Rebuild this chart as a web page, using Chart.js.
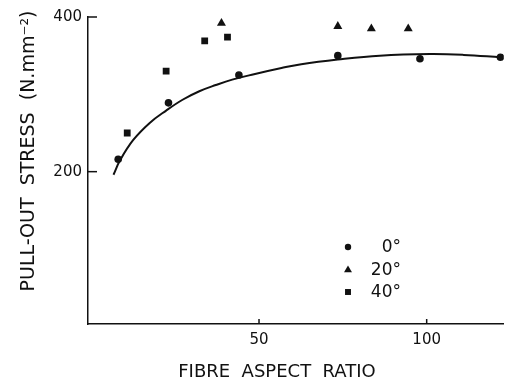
<!DOCTYPE html>
<html>
<head>
<meta charset="utf-8">
<script src="https://cdn.jsdelivr.net/npm/chart.js@4.4.1/dist/chart.umd.min.js"></script>
<style>
  body { margin: 0; background: #fff; }
  #wrap { width: 509px; height: 382px; }
</style>
</head>
<body>
<div id="wrap"><canvas id="chart" width="509" height="382"></canvas></div>
<script>
// Data
const ratio0 = [8, 23, 44, 73.5, 98, 122];
const stress0 = [216, 289, 325, 350, 346, 348];
const ratio20 = [38.8, 73.5, 83.5, 94.5];
const stress20 = [392, 388, 385, 385];
const ratio40 = [10.7, 22.3, 33.8, 40.6];
const stress40 = [250, 330, 369, 374];
// fitted curve
const fitRatio = [6.6, 8.6, 12.5, 17.4, 22.3, 27.2, 32.2, 37.1, 42, 48.5, 56.7, 62.6, 73.5, 86, 101, 111, 122];
const fitStress = [196, 215, 241, 263, 279, 293, 304, 312, 319, 326, 334, 339, 345, 350, 352, 351, 348];
const xTicks = [50, 100];
const yTicks = [200, 400];
const legendLabels = ["0°", "20°", "40°"];

const FONT = "'DejaVu Sans', sans-serif";
const INK = "#111";

function pts(xs, ys) {
  return xs.map((x, i) => ({ x: x, y: ys[i] }));
}

const markers = [
  { style: "circle", radius: 3.8 },
  { style: "triangle", radius: 5.2 },
  { style: "rect", radius: 4.8 }
];

// Inward tick marks, axis titles and the legend
const extras = {
  id: "extras",
  afterDraw(chart) {
    const ctx = chart.ctx;
    const area = chart.chartArea;
    const xs = chart.scales.x;
    const ys = chart.scales.y;
    ctx.save();
    ctx.strokeStyle = INK;
    ctx.lineWidth = 1.5;
    yTicks.forEach((v) => {
      const py = ys.getPixelForValue(v);
      ctx.beginPath();
      ctx.moveTo(area.left, py);
      ctx.lineTo(area.left + 9, py);
      ctx.stroke();
    });
    xTicks.forEach((v) => {
      const px = xs.getPixelForValue(v);
      ctx.beginPath();
      ctx.moveTo(px, area.bottom);
      ctx.lineTo(px, area.bottom - 5);
      ctx.stroke();
    });

    // axis titles
    ctx.fillStyle = INK;
    ctx.font = "18px " + FONT;
    ctx.textAlign = "center";
    ctx.textBaseline = "alphabetic";
    ctx.fillText("FIBRE  ASPECT  RATIO", 277, 377);

    ctx.font = "19px " + FONT;
    ctx.translate(34, 151);
    ctx.rotate(-Math.PI / 2);
    ctx.fillText("PULL-OUT  STRESS  (N.mm\u207B\u00B2)", 0, 0);
    ctx.setTransform(1, 0, 0, 1, 0, 0);

    // legend
    ctx.font = "17px " + FONT;
    ctx.textAlign = "right";
    ctx.textBaseline = "middle";
    const rows = [247, 270, 292];
    legendLabels.forEach((label, i) => {
      ctx.fillStyle = INK;
      Chart.helpers.drawPoint(ctx, {
        pointStyle: markers[i].style,
        radius: markers[i].radius - 0.6,
        rotation: 0,
        borderWidth: 0
      }, 348, rows[i]);
      ctx.fillStyle = INK;
      ctx.fillText(label, 401, rows[i] + 1);
    });
    ctx.restore();
  }
};

function markerSet(xs, ys, i) {
  return {
    data: pts(xs, ys),
    pointStyle: markers[i].style,
    pointRadius: markers[i].radius,
    backgroundColor: INK,
    borderColor: INK,
    borderWidth: 0,
    showLine: false
  };
}

new Chart(document.getElementById("chart"), {
  type: "scatter",
  data: {
    datasets: [
      markerSet(ratio0, stress0, 0),
      markerSet(ratio20, stress20, 1),
      markerSet(ratio40, stress40, 2),
      {
        data: pts(fitRatio, fitStress),
        showLine: true,
        pointRadius: 0,
        borderColor: INK,
        borderWidth: 2,
        tension: 0.4,
        fill: false
      }
    ]
  },
  options: {
    responsive: false,
    animation: false,
    layout: { padding: { top: 17, right: 2, bottom: 0, left: 0 } },
    plugins: {
      legend: { display: false },
      tooltip: { enabled: false }
    },
    scales: {
      x: {
        type: "linear",
        min: -1,
        max: 123,
        afterBuildTicks: (s) => { s.ticks = xTicks.map((v) => ({ value: v })); },
        afterFit: (s) => { s.height = 58; },
        grid: { drawOnChartArea: false, drawTicks: false },
        border: { display: true, color: INK, width: 1.5 },
        ticks: { color: INK, font: { family: FONT, size: 15 }, padding: 7, maxRotation: 0 }
      },
      y: {
        type: "linear",
        min: 3,
        max: 400,
        afterBuildTicks: (s) => { s.ticks = yTicks.map((v) => ({ value: v })); },
        afterFit: (s) => { s.width = 88; },
        grid: { drawOnChartArea: false, drawTicks: false },
        border: { display: true, color: INK, width: 1.5 },
        ticks: { color: INK, font: { family: FONT, size: 15 }, padding: 6 }
      }
    }
  },
  plugins: [extras]
});
</script>
</body>
</html>
